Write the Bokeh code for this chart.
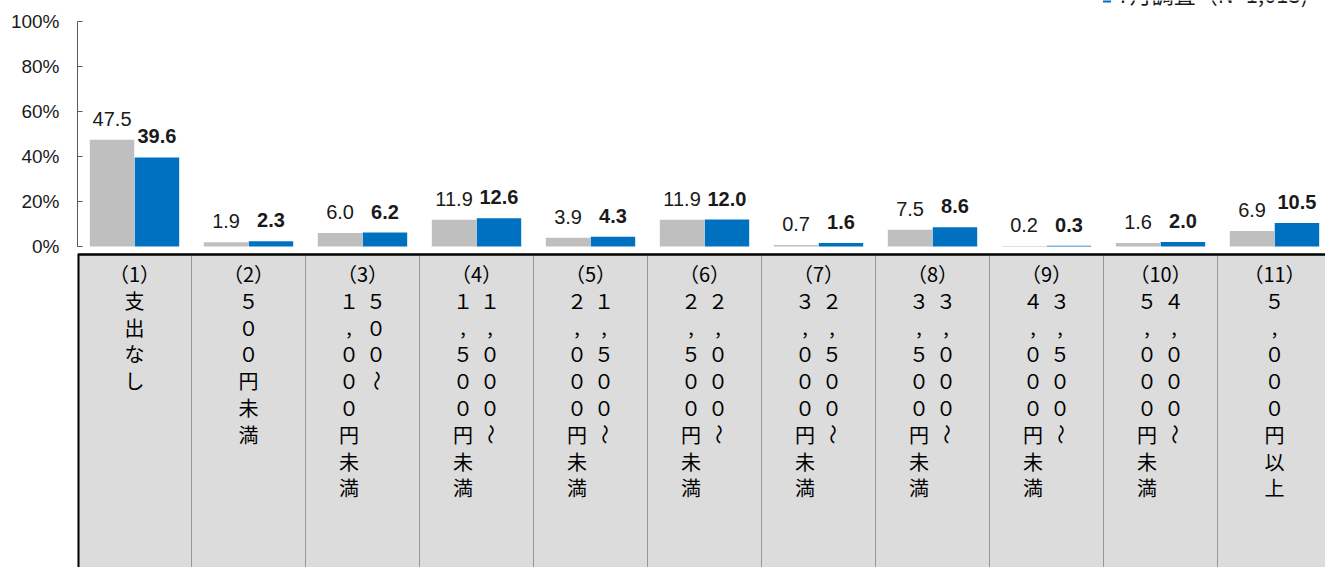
import math
from bokeh.plotting import figure
from bokeh.models import Range1d, FixedTicker, PrintfTickFormatter
from bokeh.core.properties import value
from bokeh.embed import file_html
from bokeh.resources import INLINE

# ---------------- data ----------------
categories = [
    "支出なし",
    "500円未満",
    "500～1,000円未満",
    "1,000～1,500円未満",
    "1,500～2,000円未満",
    "2,000～2,500円未満",
    "2,500～3,000円未満",
    "3,000～3,500円未満",
    "3,500～4,000円未満",
    "4,000～5,000円未満",
    "5,000円以上",
]
prev_values = [47.5, 1.9, 6.0, 11.9, 3.9, 11.9, 0.7, 7.5, 0.2, 1.6, 6.9]
july_values = [39.6, 2.3, 6.2, 12.6, 4.3, 12.0, 1.6, 8.6, 0.3, 2.0, 10.5]
y_ticks = [0, 20, 40, 60, 80, 100]
legend_label = "7月調査（N=1,013)"

# ---------------- layout constants (px) ----------------
W, H = 1325, 567
FRAME_LEFT = 77          # canvas x of frame left edge
CAT_PX = 114             # px per category
ZERO_PX = 246            # canvas y of 0%
PX_PER_UNIT = 2.25
TABLE_TOP_PX = 254
ROW0_PX = 273
ROW_PITCH = 26.8
COL_OFF = 13.5 / CAT_PX

GRAY = "#BFBFBF"
BLUE = "#0070C0"
CJK = "Noto Sans CJK JP"
LAT = "Liberation Sans"

n = len(categories)
x_end = (W - FRAME_LEFT) / CAT_PX
y_top = ZERO_PX / PX_PER_UNIT
y_bottom = -(H - ZERO_PX) / PX_PER_UNIT


def py(px):
    return (ZERO_PX - px) / PX_PER_UNIT


def px_x(px):
    return (px - FRAME_LEFT) / CAT_PX


p = figure(width=W, height=H, x_range=Range1d(0, x_end), y_range=Range1d(y_bottom, y_top),
           output_backend="svg", toolbar_location=None, x_axis_location=None,
           min_border_left=FRAME_LEFT, min_border_right=0, min_border_top=0, min_border_bottom=0)
p.xgrid.visible = False
p.ygrid.visible = False
p.outline_line_color = None
p.background_fill_color = "white"
p.border_fill_color = "white"

ax = p.yaxis[0]
ax.ticker = FixedTicker(ticks=y_ticks)
ax.formatter = PrintfTickFormatter(format="%d%%")
ax.bounds = (0, 100)
ax.major_tick_in = 5
ax.major_tick_out = 0
ax.minor_tick_line_color = None
ax.axis_line_color = "#595959"
ax.major_tick_line_color = "#595959"
ax.major_label_text_font = LAT
ax.major_label_text_font_size = "19px"
ax.major_label_text_color = "#1a1a1a"
ax.major_label_standoff = 18

# ---------------- table below ----------------
idx = list(range(n))
t_top = py(TABLE_TOP_PX)
p.quad(left=idx, right=[i + 1 for i in idx], top=[t_top] * n, bottom=[y_bottom - 5] * n,
       fill_color="#DCDCDC", line_color=None)
p.segment(x0=idx[1:], x1=idx[1:], y0=[t_top] * (n - 1), y1=[y_bottom - 5] * (n - 1),
          line_color="#4d4d4d", line_width=1, line_dash="1 1")
p.segment(x0=[0], x1=[x_end + 1], y0=[t_top], y1=[t_top], line_color="black", line_width=2.5)
p.segment(x0=[0], x1=[0], y0=[t_top], y1=[y_bottom - 5], line_color="black", line_width=4)


def fw(c):
    if c.isdigit():
        return chr(ord(c) + 0xFEE0)
    return c


tx, ty, tt, ta = [], [], [], []
for i, lab in enumerate(categories):
    cx = i + 0.5
    tx.append(cx); ty.append(py(ROW0_PX)); tt.append("（%d）" % (i + 1)); ta.append(0.0)
    if "～" in lab:
        right, left = lab.split("～")
        cols = [(cx + COL_OFF, right + "～"), (cx - COL_OFF, left)]
    else:
        cols = [(cx, lab)]
    for colx, s in cols:
        for k, ch in enumerate(s, start=1):
            tx.append(colx)
            ty.append(py(ROW0_PX + ROW_PITCH * k))
            tt.append(fw(ch))
            ta.append(math.pi / 2 if ch == "～" else 0.0)

p.text(x=tx, y=ty, text=tt, angle=ta, text_align="center", text_baseline="middle",
       text_font=value(CJK), text_font_size="20px", text_color="black")

# ---------------- bars ----------------
OFF = 0.197
BW = 0.39
xg = [i + 0.5 - OFF for i in idx]
xb = [i + 0.5 + OFF for i in idx]
p.vbar(x=xg, width=BW, top=prev_values, bottom=0, fill_color=GRAY, line_color=None)
p.vbar(x=xb, width=BW, top=july_values, bottom=0, fill_color=BLUE, line_color=None)

p.text(x=xg, y=prev_values, text=["%.1f" % v for v in prev_values], y_offset=-21,
       text_align="center", text_baseline="alphabetic", text_font=value(LAT),
       text_font_size="20px", text_color="#1a1a1a")
p.text(x=xb, y=july_values, text=["%.1f" % v for v in july_values], y_offset=-21,
       text_align="center", text_baseline="alphabetic", text_font=value(LAT),
       text_font_size="20px", text_font_style="bold", text_color="#1a1a1a")

# ---------------- legend (partly cut off at top, as in the source) ----------------
p.rect(x=[px_x(1106.5)], y=[py(-2)], width=8, height=8, width_units="screen",
       height_units="screen", fill_color=BLUE, line_color=None)
p.text(x=[px_x(1117)], y=[py(-8)], text=[legend_label], text_align="left",
       text_baseline="alphabetic", text_font=value(CJK), text_font_size="22px",
       text_color="#1a1a1a")

open("out.html", "w").write(file_html(p, INLINE))
